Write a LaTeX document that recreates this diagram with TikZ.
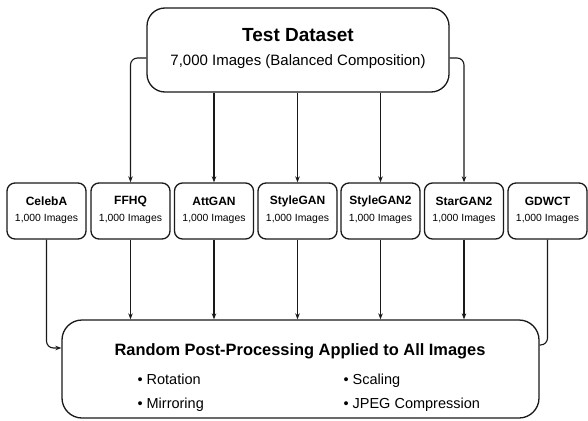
\documentclass[tikz,border=0pt]{standalone}
\usepackage{fontspec}
\setmainfont{Liberation Sans}
\usetikzlibrary{arrows.meta}
\begin{document}
\begin{tikzpicture}[x=1pt,y=-1pt,
  box/.style={draw=black!90,line width=1.3pt,fill=white},
  smallbox/.style={box,rounded corners=8pt,minimum width=79pt,minimum height=56pt,inner sep=0pt},
  conn/.style={line width=1.1pt,draw=black!90},
  arr/.style={conn,-{Stealth[length=6pt,width=4.5pt]}},
  srcname/.style={font=\fontsize{12}{14}\selectfont\bfseries},
  srccount/.style={font=\fontsize{10.4}{12}\selectfont},
  bulletitem/.style={font=\fontsize{14.5}{17}\selectfont,anchor=base west}]
\useasboundingbox[fill=white] (0,0) rectangle (588,420);
% top box
\node[box,rounded corners=18pt,minimum width=302pt,minimum height=84pt] (top) at (298,50) {};
\node[font=\fontsize{19}{22}\selectfont\bfseries] (toptitle) at (298,35) {Test Dataset};
\node[font=\fontsize{15}{18}\selectfont] (topsub) at (298,62) {7,000 Images (Balanced Composition)};
% source boxes
\foreach \n/\t/\x in {celeba/CelebA/46.5, ffhq/FFHQ/130.5, attgan/AttGAN/214, stylegan/StyleGAN/297.5, stylegantwo/StyleGAN2/380.5, stargantwo/StarGAN2/464, gdwct/GDWCT/547.5}{
  \node[smallbox] (\n) at (\x,211) {};
  \node[srcname] (\n-t) at (\x,201) {\t};
  \node[srccount] (\n-c) at (\x,219) {1,000 Images};
}
% bottom box
\node[box,rounded corners=20pt,minimum width=477pt,minimum height=98pt] (bot) at (300.5,369) {};
\node[font=\fontsize{16.4}{19}\selectfont\bfseries] (bottitle) at (300,351) {Random Post-Processing Applied to All Images};
\node[bulletitem] (b1) at (134,384) {• Rotation};
\node[bulletitem] (b2) at (134,408) {• Mirroring};
\node[bulletitem] (b3) at (340,384) {• Scaling};
\node[bulletitem] (b4) at (340,408) {• JPEG Compression};
% connectors from top
\draw[arr,rounded corners=7pt] ([yshift=-8pt]top.west) -| (ffhq.north);
\draw[arr] (top.south -| attgan.north) -- (attgan.north);
\draw[arr] (top.south -| stylegan.north) -- (stylegan.north);
\draw[arr] (top.south -| stylegantwo.north) -- (stylegantwo.north);
\draw[arr,rounded corners=7pt] ([yshift=-8pt]top.east) -| (stargantwo.north);
% connectors to bottom
\draw[arr,rounded corners=7pt] (celeba.south) |- ([yshift=21pt]bot.west);
\foreach \n in {ffhq,attgan,stylegan,stylegantwo,stargantwo}{
  \draw[arr] (\n.south) -- (bot.north -| \n.south);
}
\draw[conn,rounded corners=7pt] (gdwct.south) |- ([yshift=24pt]bot.east);
\end{tikzpicture}
\end{document}
